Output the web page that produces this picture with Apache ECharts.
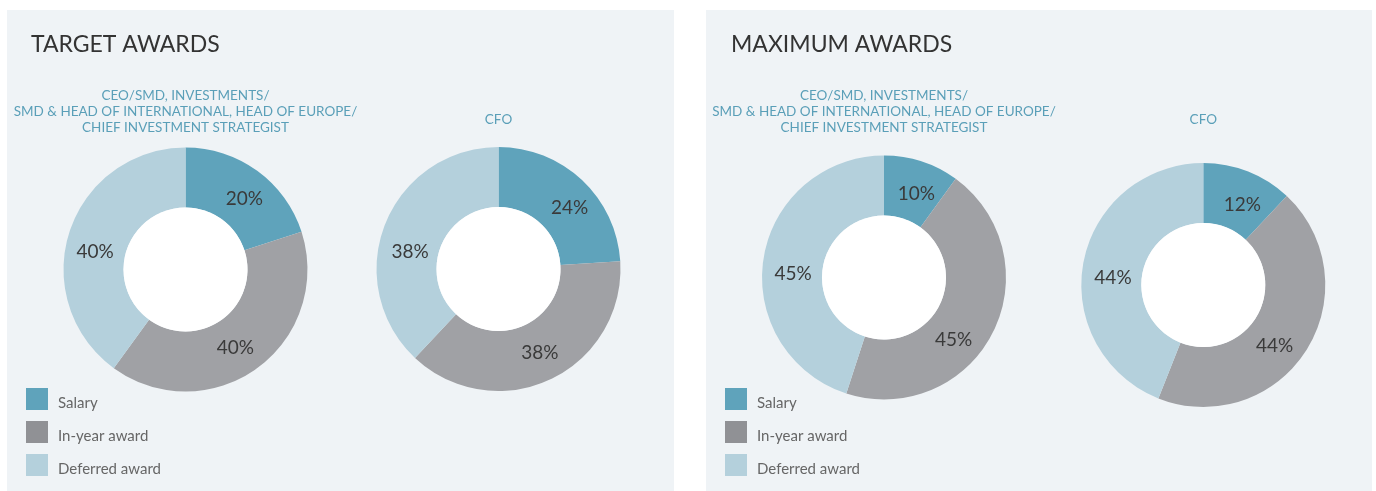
<!DOCTYPE html>
<html>
<head>
<meta charset="utf-8">
<script src="https://cdn.jsdelivr.net/npm/echarts@6/dist/echarts.min.js"></script>
<style>
html,body{margin:0;padding:0;background:#fff;}
#c{width:1376px;height:491px;}
</style>
</head>
<body>
<div id="c"></div>
<script>
// ---- data ----
const components = ['Salary', 'In-year award', 'Deferred award'];
const panelTitles = ['TARGET AWARDS', 'MAXIMUM AWARDS'];
const roleLabels = ['CEO/SMD, INVESTMENTS/\nSMD & HEAD OF INTERNATIONAL, HEAD OF EUROPE/\nCHIEF INVESTMENT STRATEGIST', 'CFO'];
const targetCEO = [20, 40, 40];
const targetCFO = [24, 38, 38];
const maximumCEO = [10, 45, 45];
const maximumCFO = [12, 44, 44];

// ---- styles ----
const colors = ['#5fa3bb', '#a0a1a5', '#b4d0dc'];
const legendColors = ['#5fa3bb', '#909195', '#b4d0dc'];
const panelBg = '#eff3f6';
const FONT = 'Lato, "Open Sans", sans-serif';

// label nudges (px) relative to the default inside position, per pie / slice
const labelNudges = [
  [[3, 6], [-6, 2], [0, 12]],
  [[6, 8], [1, -2], [0, 18]],
  [[3, 7], [-15, 19], [3, 11]],
  [[4, 8], [-9, 10], [3, 11]]
];

const pies = [
  {vals: targetCEO, center: [185.5, 269.5]},
  {vals: targetCFO, center: [498.5, 269]},
  {vals: maximumCEO, center: [884, 277.5]},
  {vals: maximumCFO, center: [1203.3, 285]}
];

const series = [];
pies.forEach(function (p, k) {
  series.push({
    type: 'pie',
    center: p.center,
    radius: [62, 122],
    startAngle: 90,
    clockwise: true,
    avoidLabelOverlap: false,
    silent: true,
    label: {
      show: true, position: 'inside', formatter: '{c}%',
      color: '#3a3a3a', fontSize: 19, fontFamily: FONT
    },
    labelLine: {show: false},
    data: components.map(function (n, i) {
      return {name: n, value: p.vals[i], itemStyle: {color: colors[i]},
              label: {offset: labelNudges[k][i]}};
    })
  });
  series.push({
    type: 'pie',
    center: p.center,
    radius: [0, 62],
    silent: true,
    label: {show: false},
    data: [{value: 1, itemStyle: {color: '#ffffff'}}]
  });
});

function legendFor(left) {
  return {
    orient: 'vertical', left: left, top: 388,
    itemWidth: 22, itemHeight: 22, itemGap: 10, padding: 0,
    icon: 'rect', selectedMode: false,
    formatter: function (name) { return '{t|' + name + '}'; },
    textStyle: {
      color: '#666', fontSize: 15, fontFamily: FONT,
      rich: {t: {color: '#666', fontSize: 15, fontFamily: FONT, padding: [9, 0, 0, 5]}}
    },
    data: components.map(function (n, i) {
      return {name: n, itemStyle: {color: legendColors[i]}};
    })
  };
}

function subTitle(text, x, top) {
  return {
    text: text, left: x, top: top, textAlign: 'center', padding: 0,
    textStyle: {color: '#5a9fb8', fontSize: 13.5, fontWeight: 'normal', fontFamily: FONT, lineHeight: 16}
  };
}

const option = {
  backgroundColor: '#ffffff',
  animation: false,
  graphic: [
    {type: 'rect', shape: {x: 7, y: 10, width: 667, height: 481}, style: {fill: panelBg}, z: -10},
    {type: 'rect', shape: {x: 706, y: 10, width: 666, height: 481}, style: {fill: panelBg}, z: -10}
  ],
  title: [
    {text: panelTitles[0], left: 31, top: 33, padding: 0,
     textStyle: {color: '#333', fontSize: 23, fontWeight: 'normal', fontFamily: FONT}},
    {text: panelTitles[1], left: 731, top: 33, padding: 0,
     textStyle: {color: '#333', fontSize: 23, fontWeight: 'normal', fontFamily: FONT}},
    subTitle(roleLabels[0], 185.5, 88),
    subTitle(roleLabels[1], 498.5, 112),
    subTitle(roleLabels[0], 884, 88),
    subTitle(roleLabels[1], 1203.3, 112)
  ],
  legend: [legendFor(26), legendFor(725)],
  series: series
};

const chart = echarts.init(document.getElementById('c'), null, {renderer: 'canvas'});
chart.setOption(option);
</script>
</body>
</html>
